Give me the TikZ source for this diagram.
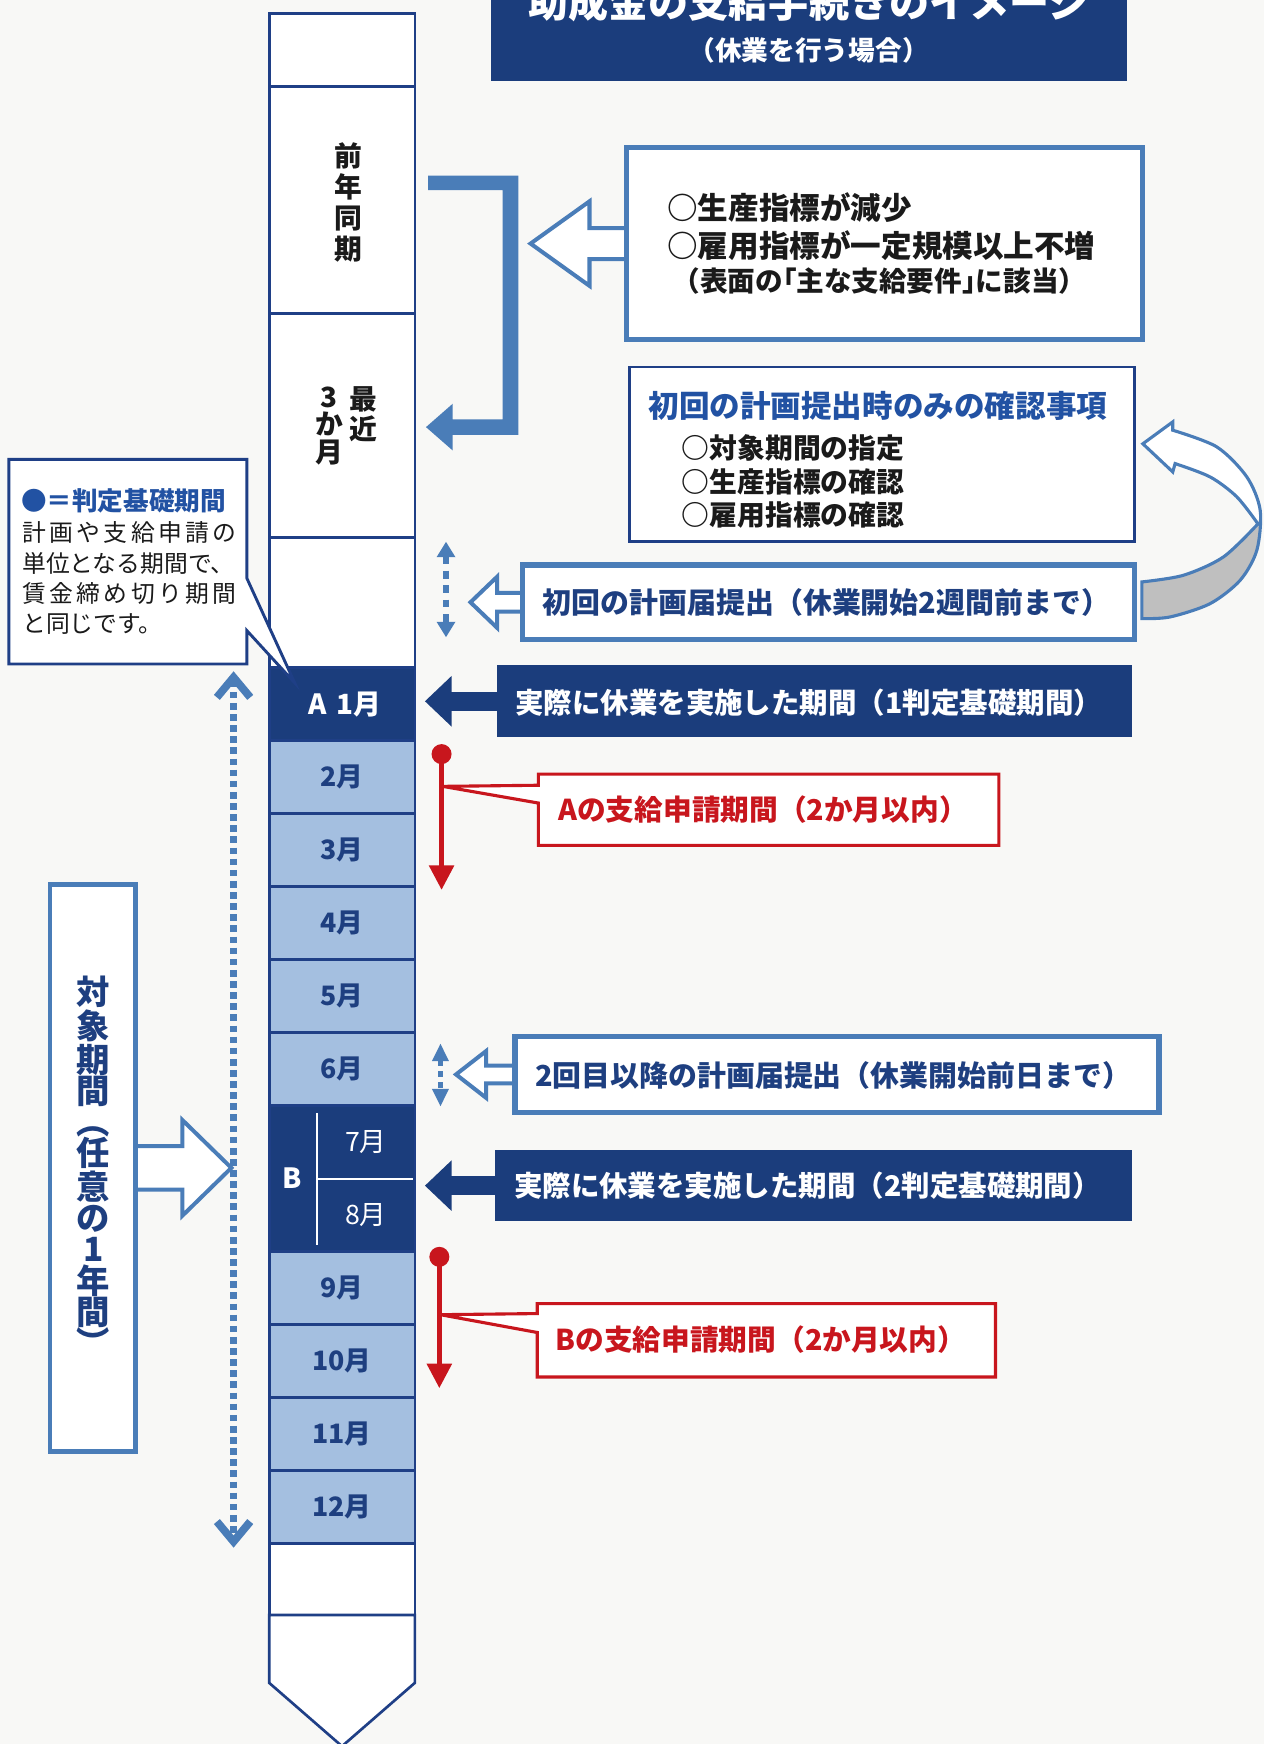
\documentclass[tikz,border=0pt]{standalone}
\usepackage{fontspec}
\setmainfont{Noto Sans CJK JP}
\newfontfamily\jphalt[RawFeature=+halt]{Noto Sans CJK JP}
\newcommand\jpm{\bfseries}
\newcommand\jpmh{\jphalt\bfseries}
\usetikzlibrary{arrows.meta,calc}
\pgfdeclarelayer{bg}\pgfdeclarelayer{back}\pgfsetlayers{bg,back,main}
\newcommand\myfs[2]{\fontsize{#1}{#2}\selectfont}
\definecolor{navy}{HTML}{1B3D7C}
\definecolor{navyline}{HTML}{1F3F86}
\definecolor{steel}{HTML}{4A7DB8}
\definecolor{lblue}{HTML}{A4BFE0}
\definecolor{redc}{HTML}{C8161D}
\definecolor{txtnavy}{HTML}{1E3F80}
\definecolor{headblue}{HTML}{2252A3}
\definecolor{ink}{HTML}{1A1A1A}
\definecolor{bgc}{HTML}{F8F8F6}
\definecolor{bandgrey}{HTML}{BFBFBF}
\tikzset{
  cellw/.style={draw=navyline, line width=1.2pt, fill=white, minimum width=65.5pt, inner sep=0pt},
  mcell/.style={cellw, fill=lblue, minimum height=32.83pt, text=txtnavy, font=\bfseries\myfs{12}{12}},
  wlabel/.style={text=white, font=\bfseries\myfs{12.5}{12.5}},
  steelbox/.style={draw=steel, line width=2.4pt, fill=white, inner sep=0pt},
  banner/.style={fill=navy, inner sep=0pt},
  bantext/.style={text=white, font=\bfseries\myfs{12.8}{12.8}},
  redtext/.style={text=redc, font=\bfseries\myfs{12.9}{12.9}},
  solidarrow/.style={navy, line width=8.5pt, -{Triangle[length=12pt,width=22pt]}},
  redarrow/.style={redc, line width=2pt, -{Triangle[length=11pt,width=11pt]}},
  reddot/.style={circle, fill=redc, minimum size=9pt, inner sep=0pt},
  callred/.style={draw=redc, line width=1.4pt, fill=white, line join=miter},
  pics/openL/.style n args={4}{code={
    \filldraw[fill=white, draw=steel, line width=1.8pt, line join=miter]
      (0,-#4) -- (-#1+#2,-#4) -- (-#1+#2,-#3) -- (-#1,0) -- (-#1+#2,#3) -- (-#1+#2,#4) -- (0,#4);
  }},
  pics/openR/.style n args={4}{code={
    \filldraw[fill=white, draw=steel, line width=1.8pt, line join=miter]
      (0,-#4) -- (#1-#2,-#4) -- (#1-#2,-#3) -- (#1,0) -- (#1-#2,#3) -- (#1-#2,#4) -- (0,#4);
  }},
}
\begin{document}
\begin{tikzpicture}[x=0.5pt,y=-0.5pt, every node/.style={inner sep=0pt, outer sep=0pt}]
\useasboundingbox (0,0) rectangle (1136,1568);
\begin{pgfonlayer}{bg}
\fill[bgc] (0,0) rectangle (1136,1568);
\end{pgfonlayer}

% ---------- title ----------
\node[banner, minimum width=286pt, minimum height=46.5pt] (title) at (727,26.5) {};
\node[anchor=base, text=white, font=\bfseries\myfs{18}{18}] (t1) at (727,16) {助成金の支給手続きのイメージ};
\node[text=white, font=\bfseries\myfs{12}{12}] (t2) at (727,45) {（休業を行う場合）};

% ---------- column ----------
\node[cellw, minimum height=33pt] (c0) at (307.5,45) {};
\node[cellw, minimum height=102pt] (c1) at (307.5,180) {};
\node[cellw, minimum height=100.5pt] (c2) at (307.5,382.5) {};
\node[cellw, minimum height=58.5pt] (c3) at (307.5,541.5) {};
\node[cellw, fill=navy, minimum height=32.83pt] (m1) at (307.5,632.8) {};
\node[mcell] (m2) at (307.5,698.5) {2月};
\node[mcell] (m3) at (307.5,764.2) {3月};
\node[mcell] (m4) at (307.5,829.8) {4月};
\node[mcell] (m5) at (307.5,895.5) {5月};
\node[mcell] (m6) at (307.5,961.2) {6月};
\node[cellw, fill=navy, minimum height=65.67pt] (mB) at (307.5,1059.7) {};
\node[mcell] (m9) at (307.5,1158.2) {9月};
\node[mcell] (m10) at (307.5,1223.8) {10月};
\node[mcell] (m11) at (307.5,1289.5) {11月};
\node[mcell] (m12) at (307.5,1355.2) {12月};
\node[cellw, minimum height=32pt] (cb) at (307.5,1420) {};
\draw[navyline, line width=1.2pt, fill=white, line join=miter] (242,1452) -- (373,1452) -- (373,1513) -- (307.5,1570) -- (242,1513) -- cycle;

\node[wlabel] (A1) at (310,633) {A\,\,1月};
\draw[white, line width=1pt] (285,1001) -- (285,1119);
\draw[white, line width=1pt] (285,1059.7) -- (371,1059.7);
\node[wlabel] (Bl) at (263,1059) {B};
\node[text=white, font=\myfs{12}{12}] (m7) at (329,1026.8) {7月};
\node[text=white, font=\myfs{12}{12}] (m8) at (329,1092.5) {8月};

\node[text=ink, font=\jpm\myfs{12.5}{13.9}, align=center] (zen) at (313,182) {前\\年\\同\\期};
\node[text=ink, font=\jpm\myfs{12.5}{13.5}, align=center] (sai) at (327,372) {最\\近};
\node[text=ink, font=\jpm\myfs{12.5}{12.5}, align=center] (san) at (296,383) {3\\か\\月};

% ---------- bracket arrow ----------
\fill[steel] (385,158) -- (466,158) -- (466,391) -- (407,391) -- (407,405) -- (383,384) -- (407,363) -- (407,377) -- (452,377) -- (452,171) -- (385,171) -- cycle;

% ---------- box 1 ----------
\node[steelbox, line width=2.2pt, minimum width=232pt, minimum height=86pt] (b1) at (795,219) {};
\node[anchor=west, text=ink, font=\jpm\myfs{13.75}{13.75}] (b1a) at (600,187) {○生産指標が減少};
\node[anchor=west, text=ink, font=\jpm\myfs{13.75}{13.75}] (b1b) at (600,221) {○雇用指標が一定規模以上不増};
\node[anchor=west, text=ink, font=\jpmh\myfs{12.4}{12.4}] (b1c) at (617,253) {（表面の「主な支給要件」に該当）};

% ---------- box 2 ----------
\node[draw=navyline, line width=1.3pt, fill=white, minimum width=227pt, minimum height=78.5pt] (b2) at (793,408.5) {};
\node[anchor=west, text=headblue, font=\jpm\myfs{13.75}{13.75}] (b2t) at (583,365) {初回の計画提出時のみの確認事項};
\node[anchor=west, text=ink, font=\jpm\myfs{12.5}{12.5}] (b2a) at (613,403) {○対象期間の指定};
\node[anchor=west, text=ink, font=\jpm\myfs{12.5}{12.5}] (b2b) at (613,433) {○生産指標の確認};
\node[anchor=west, text=ink, font=\jpm\myfs{12.5}{12.5}] (b2c) at (613,463) {○雇用指標の確認};

% ---------- box 3 ----------
\node[steelbox, minimum width=275pt, minimum height=33.5pt] (b3) at (745,541.5) {};
\node[text=txtnavy, font=\jpm\myfs{13}{13}] (b3t) at (743,542) {初回の計画届提出（休業開始2週間前まで）};
\coordinate (d1a) at (401,487);
\coordinate (d1b) at (401,573);
\draw[steel, line width=2.5pt, dash pattern=on 3.5pt off 3pt, {Triangle[length=7pt,width=8pt]}-{Triangle[length=7pt,width=8pt]}] (d1a) -- (d1b);

% ---------- curved arrow ----------
\fill[white] (1027.5,399) -- (1054.4,379.3) -- plot[smooth] coordinates {(1054.4,386.8) (1094,401.8) (1121,428.8) (1133,458.7) (1130,494.7) (1115,521.7) (1088,542.7) (1052,554.7) (1026.6,556.2)} -- (1026.6,523.2) -- plot[smooth] coordinates {(1026.6,523.2) (1064,517.2) (1100,500.7) (1131,471)} -- plot[smooth] coordinates {(1131,471) (1112,446.7) (1088,428.8) (1056.5,416.8)} -- (1054.4,424.3) -- cycle;
\fill[bandgrey] plot[smooth] coordinates {(1133,462) (1130,494.7) (1115,521.7) (1088,542.7) (1052,554.7) (1026.6,556.2)} -- (1026.6,523.2) -- plot[smooth] coordinates {(1026.6,523.2) (1064,517.2) (1100,500.7) (1131,471)} -- cycle;
\draw[steel, line width=1.4pt, line join=miter] (1027.5,399) -- (1054.4,379.3) -- plot[smooth] coordinates {(1054.4,386.8) (1094,401.8) (1121,428.8) (1133,458.7) (1130,494.7) (1115,521.7) (1088,542.7) (1052,554.7) (1026.6,556.2)} -- (1026.6,523.2) -- plot[smooth] coordinates {(1026.6,523.2) (1064,517.2) (1100,500.7) (1131,471)} -- plot[smooth] coordinates {(1131,471) (1112,446.7) (1088,428.8) (1056.5,416.8)} -- (1054.4,424.3) -- cycle;

% ---------- banner 1 ----------
\node[banner, minimum width=285.5pt, minimum height=32.5pt] (ban1) at (732.5,630.5) {};
\node[bantext] (ban1t) at (727,632) {実際に休業を実施した期間（1判定基礎期間）};
\draw[solidarrow] (ban1.west) -- ($(ban1.west -| m1.east)+(4.5pt,0pt)$);

% ---------- red A ----------
\node[reddot] (dA) at (397,678) {};
\coordinate (eA) at (397,800);
\draw[redarrow] (dA.center) -- (eA);
\draw[callred] (484,706) -- (484,696) -- (898,696) -- (898,760) -- (484,760) -- (484,722) -- (398,707) -- cycle;
\node[redtext] (cAt) at (686,728) {Aの支給申請期間（2か月以内）};

% ---------- box 4 ----------
\node[steelbox, minimum width=289.5pt, minimum height=34pt] (b4) at (752.5,966) {};
\node[text=txtnavy, font=\jpm\myfs{13}{13}] (b4t) at (749,967) {2回目以降の計画届提出（休業開始前日まで）};
\coordinate (d2a) at (396,938);
\coordinate (d2b) at (396,995);
\draw[steel, line width=2.5pt, dash pattern=on 2.5pt off 2.5pt, {Triangle[length=8pt,width=7pt]}-{Triangle[length=8pt,width=7pt]}] (d2a) -- (d2b);

% ---------- banner 2 ----------
\node[banner, minimum width=286.5pt, minimum height=32pt] (ban2) at (731.5,1066) {};
\node[bantext] (ban2t) at (726,1066) {実際に休業を実施した期間（2判定基礎期間）};
\draw[solidarrow] (ban2.west) -- ($(ban2.west -| mB.east)+(4.5pt,0pt)$);

% ---------- red B ----------
\node[reddot] (dB) at (395,1130) {};
\coordinate (eB) at (395,1248);
\draw[redarrow] (dB.center) -- (eB);
\draw[callred] (483,1181) -- (483,1172) -- (895,1172) -- (895,1238) -- (483,1238) -- (483,1198) -- (396,1182) -- cycle;
\node[redtext] (cBt) at (684,1204) {Bの支給申請期間（2か月以内）};

% ---------- callout left ----------
\draw[navyline, line width=1.3pt, fill=white, line join=miter] (222,520) -- (222,413) -- (8,413) -- (8,597) -- (222,597) -- (222,567) -- (265,614) -- cycle;
\node[anchor=west, text=headblue, font=\bfseries\myfs{11.5}{11.5}] (cl0) at (19,450) {●＝判定基礎期間};
\node[anchor=west, text=ink, font=\myfs{10.7}{10.7}] (cl1) at (20,479) {\makebox[96.3pt][s]{計\hfil 画\hfil や\hfil 支\hfil 給\hfil 申\hfil 請\hfil の}};
\node[anchor=west, text=ink, font=\myfs{10.7}{10.7}] (cl2) at (20,507) {単位となる期間で、};
\node[anchor=west, text=ink, font=\myfs{10.7}{10.7}] (cl3) at (20,534) {\makebox[96.3pt][s]{賃\hfil 金\hfil 締\hfil め\hfil 切\hfil り\hfil 期\hfil 間}};
\node[anchor=west, text=ink, font=\myfs{10.7}{10.7}] (cl4) at (20,561) {と同じです。};

% ---------- left dotted arrow ----------
\coordinate (la1) at (210,612);
\coordinate (la2) at (210,1383);
\draw[steel, line width=3.5pt, dash pattern=on 3pt off 2pt] (la1) -- (la2);
\draw[steel, line width=3.5pt, line join=miter] (195,627) -- (210,609) -- (225,627);
\draw[steel, line width=3.5pt, line join=miter] (195,1368) -- (210,1386) -- (225,1368);

% ---------- target period box ----------
\node[steelbox, line width=2.2pt, minimum width=38.5pt, minimum height=255pt] (tb) at (83.5,1050) {};
\node[text=txtnavy, font=\bfseries\myfs{15}{14}, align=center] (tbt) at (84,1048) {対\\象\\期\\間\\︵\\任\\意\\の\\1\\年\\間\\︶};

% ---------- open arrows (behind boxes) ----------
\begin{pgfonlayer}{back}
\pic at (b1.west) {openL={86}{53}{38}{14}};
\pic at (b3.west) {openL={47}{24}{23}{8.5}};
\pic at (b4.west) {openL={53}{27}{21}{8}};
\pic at (tb.east) {openR={86}{44}{43}{19.5}};
\end{pgfonlayer}
\end{tikzpicture}
\end{document}
